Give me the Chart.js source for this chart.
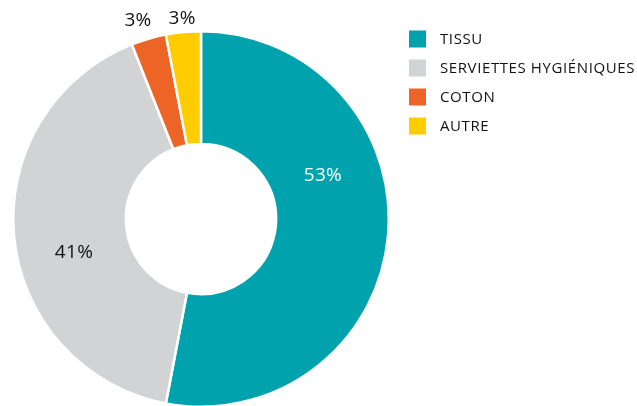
<!DOCTYPE html>
<html><head><meta charset="utf-8">
<script src="https://cdn.jsdelivr.net/npm/chart.js@4.4.1/dist/chart.umd.min.js"></script>
<style>html,body{margin:0;padding:0;background:#fff;overflow:hidden}#wrap{position:relative;width:637px;height:408px}</style>
</head><body><div id="wrap"><canvas id="c"></canvas></div>
<script>
const categories = ["TISSU", "SERVIETTES HYGIÉNIQUES", "COTON", "AUTRE"];
const values = [53, 41, 3, 3];
const valueLabels = ["53%", "41%", "3%", "3%"];
const colors = ["#00A3AD", "#D1D3D4", "#EC6527", "#FFCC00"];
const labelColors = ["#ffffff", "#111111", "#111111", "#111111"];
// label placement: radius fraction of outer radius, angle nudge (degrees)
const labelRadius = [0.69, 0.70, 1.11, 1.07];
const labelNudge = [-25.2, -9.5, -1.4, 0];
const FONT = '"Open Sans", sans-serif';

const labelPlugin = {
  id: 'valueLabels',
  afterDatasetsDraw(chart) {
    const ctx = chart.ctx;
    const meta = chart.getDatasetMeta(0);
    ctx.save();
    ctx.font = '19px ' + FONT;
    ctx.letterSpacing = '0.3px';
    ctx.textAlign = 'center';
    ctx.textBaseline = 'middle';
    meta.data.forEach((arc, i) => {
      const p = arc.getProps(['x','y','startAngle','endAngle','outerRadius'], true);
      const a = (p.startAngle + p.endAngle) / 2 + labelNudge[i] * Math.PI / 180;
      const r = p.outerRadius * labelRadius[i];
      ctx.fillStyle = labelColors[i];
      ctx.fillText(valueLabels[i], p.x + r * Math.cos(a), p.y + r * Math.sin(a));
    });
    ctx.restore();
  }
};
const legendPlugin = {
  id: 'sideLegend',
  afterDraw(chart) {
    const ctx = chart.ctx;
    ctx.save();
    ctx.font = '15px ' + FONT;
    ctx.letterSpacing = '0.6px';
    ctx.textBaseline = 'middle';
    ctx.textAlign = 'left';
    const x0 = 409, y0 = 39, step = 29, box = 17;
    chart.data.labels.forEach((lab, i) => {
      const y = y0 + i * step;
      ctx.fillStyle = chart.data.datasets[0].backgroundColor[i];
      ctx.fillRect(x0, y - box / 2, box, box);
      ctx.fillStyle = '#111111';
      ctx.fillText(lab, 440, y + 1);
    });
    ctx.restore();
  }
};

new Chart(document.getElementById('c'), {
  type: 'doughnut',
  data: {
    labels: categories,
    datasets: [{
      data: values,
      backgroundColor: colors,
      borderColor: '#ffffff',
      borderWidth: 2.5
    }]
  },
  options: {
    responsive: true,
    maintainAspectRatio: false,
    animation: false,
    cutout: '40%',
    rotation: 0,
    layout: { padding: { left: 12, top: 30, right: 247, bottom: 0 } },
    plugins: { legend: { display: false }, tooltip: { enabled: false } }
  },
  plugins: [labelPlugin, legendPlugin]
});
</script></body></html>
